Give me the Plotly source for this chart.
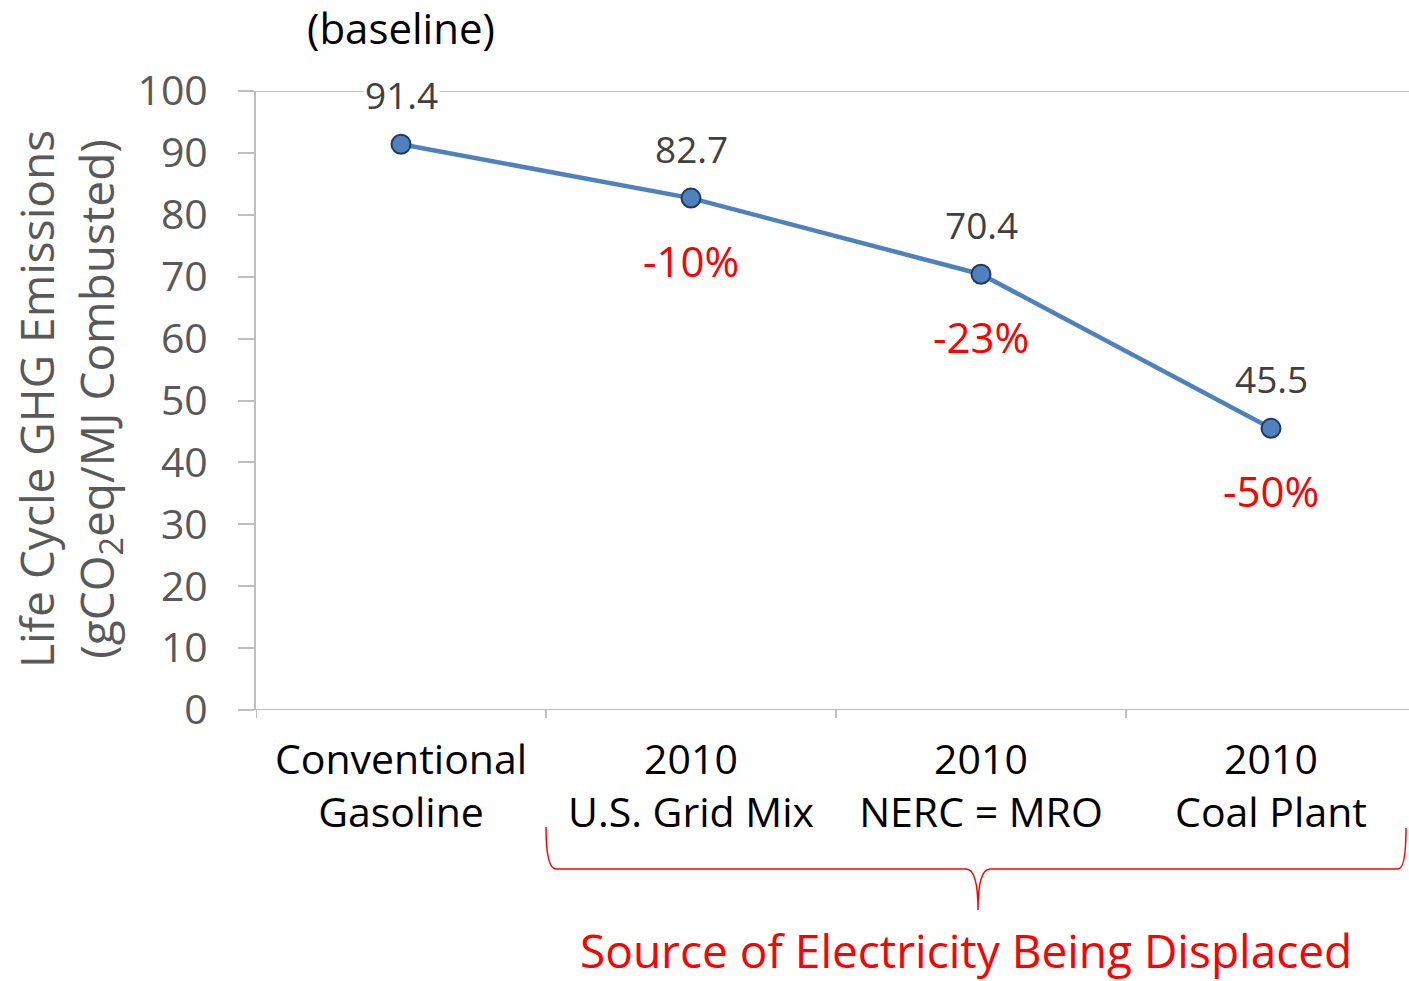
import plotly.graph_objects as go

# Scenario categories and life-cycle emissions (gCO2eq/MJ combusted)
categories = ["Conventional<br>Gasoline", "2010<br>U.S. Grid Mix",
              "2010<br>NERC = MRO", "2010<br>Coal Plant"]
emissions = [91.4, 82.7, 70.4, 45.5]
reductions = ["", "-10%", "-23%", "-50%"]
y_ticks = [0, 10, 20, 30, 40, 50, 60, 70, 80, 90, 100]

W, H = 1409, 981
ML, MR, MT, MB = 256, 0, 91, 271
PW, PH = W - ML - MR, H - MT - MB

FONT = "Open Sans"
GREY = "#595959"
RED = "#FF0000"
BLUE = "#4F81BD"

def px(xp):
    return (xp - ML) / PW

def py(yp):
    return (H - MB - yp) / PH

fig = go.Figure()

fig.add_trace(go.Scatter(
    x=list(range(len(categories))), y=emissions,
    mode="lines+markers",
    line=dict(color=BLUE, width=4.5),
    marker=dict(size=19, color=BLUE, line=dict(color="#1F3A60", width=2)),
    hoverinfo="skip", showlegend=False, cliponaxis=False,
))

# value labels above each point
for i, v in enumerate(emissions):
    fig.add_annotation(x=i, y=v, text=f"{v:.1f}", showarrow=False,
                       yshift=50, yanchor="middle", xanchor="center",
                       bgcolor="white" if i == 0 else None,
                       font=dict(family=FONT, size=37, color="#404040"))

# percent change labels below points
for i, (v, r) in enumerate(zip(emissions, reductions)):
    if r:
        fig.add_annotation(x=i, y=v, text=r, showarrow=False, yshift=-62,
                           yanchor="middle", xanchor="center",
                           font=dict(family=FONT, size=42, color=RED))

fig.add_annotation(x=0, y=py(28), xref="x", yref="paper",
                   yanchor="middle", xanchor="center",
                   text="(baseline)", showarrow=False,
                   font=dict(family=FONT, size=42, color="black"))

# y-axis title
fig.add_annotation(x=px(68), y=py(399), xref="paper", yref="paper",
                   xanchor="center", yanchor="middle",
                   text="Life Cycle GHG Emissions<br>(gCO<sub>2</sub>eq/MJ Combusted)",
                   textangle=-90, showarrow=False,
                   font=dict(family=FONT, size=46, color=GREY))

# top gridline at 100
fig.add_shape(type="line", xref="paper", yref="y", x0=px(240), x1=1, y0=100, y1=100,
              line=dict(color="#BFBFBF", width=2), layer="below")

# brace under the electricity scenarios
brace = (f"M {px(546)} {py(827)} Q {px(546)} {py(869)} {px(556)} {py(869)} "
         f"L {px(966)} {py(869)} Q {px(978)} {py(869)} {px(978)} {py(910)} "
         f"Q {px(978)} {py(869)} {px(990)} {py(869)} "
         f"L {px(1398)} {py(869)} Q {px(1406)} {py(869)} {px(1406)} {py(828)}")
fig.add_shape(type="path", xref="paper", yref="paper", path=brace,
              line=dict(color=RED, width=1.5))

fig.add_annotation(x=px(966), y=py(950), xref="paper", yref="paper",
                   xanchor="center", yanchor="middle",
                   text="Source of Electricity Being Displaced", showarrow=False,
                   font=dict(family=FONT, size=46, color=RED))

fig.update_layout(
    width=W, height=H,
    margin=dict(l=ML, r=MR, t=MT, b=MB),
    paper_bgcolor="white", plot_bgcolor="white",
    font=dict(family=FONT),
    xaxis=dict(
        type="linear", range=[-0.5, -0.5 + PW / 290.0],
        tickvals=list(range(len(categories))), ticktext=categories,
        showgrid=False, zeroline=False,
        showline=False, ticks="",
        tickfont=dict(family=FONT, size=41, color="black"),
        ticklabelstandoff=22,
    ),
    yaxis=dict(
        range=[0, 100], tickvals=y_ticks,
        showgrid=False, zeroline=False,
        showline=True, linecolor="#BFBFBF", linewidth=2,
        ticks="outside", ticklen=16, tickcolor="#BFBFBF", tickwidth=2,
        tickfont=dict(family=FONT, size=41, color=GREY),
        ticklabelstandoff=22,
    ),
)

# x-axis baseline and category boundary ticks
fig.add_shape(type="line", xref="paper", yref="y", x0=px(240), x1=1, y0=0, y1=0,
              line=dict(color="#BFBFBF", width=2))
for b in [-0.5, 0.5, 1.5, 2.5]:
    fig.add_shape(type="line", xref="x", yref="paper", x0=b, x1=b,
                  y0=0, y1=py(718), line=dict(color="#BFBFBF", width=2))

fig.write_html("out.html")
